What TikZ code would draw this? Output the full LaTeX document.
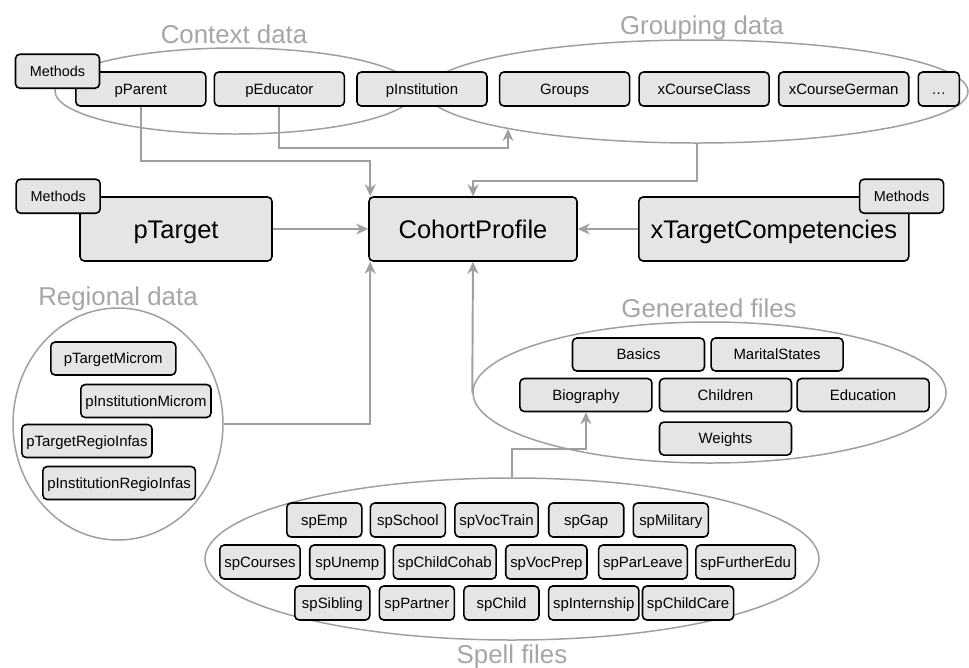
\documentclass[tikz,border=0pt]{standalone}
\usepackage{fontspec}
\setmainfont{Liberation Sans}
\usetikzlibrary{positioning,arrows.meta,shapes.geometric}

\begin{document}
\begin{tikzpicture}[
  x=0.2mm, y=-0.2mm,
  node distance=1.6mm and 1.6mm,
  box/.style={draw=black,line width=0.9pt,fill=gray!20,rounded corners=2.5pt,
              font=\fontsize{8.5}{10}\selectfont,inner xsep=0.9mm,inner ysep=0pt,
              text height=6.1pt,text depth=0pt,minimum height=6.8mm},
  topbox/.style={box,minimum width=26mm},
  genbox/.style={box,minimum width=26.4mm,minimum height=6.6mm},
  spbox/.style={box,minimum width=15mm},
  regbox/.style={box,minimum width=25mm,minimum height=6.6mm,anchor=west},
  bigbox/.style={box,font=\fontsize{14.5}{17}\selectfont,text height=10.4pt,
                 minimum height=12.8mm,inner xsep=1.4mm},
  meth/.style={box,font=\fontsize{8.2}{10}\selectfont,text height=5.9pt,minimum width=16.8mm},
  group/.style={ellipse,draw=gray!75,line width=0.85pt,inner sep=0pt},
  grouplabel/.style={text=gray!70,font=\fontsize{14.7}{17}\selectfont,anchor=base},
  arr/.style={-{Stealth[length=2.4mm,width=2.2mm]},draw=gray!75,line width=1.1pt},
]
\useasboundingbox (0,0) rectangle (969,667);

% groups
\node[group,minimum width=72mm,minimum height=17.2mm] (ctx) at (235,91) {};
\node[group,minimum width=108.4mm,minimum height=20.6mm] (grp) at (697,91.5) {};
\node[group,minimum width=42mm,minimum height=46.4mm] (reg) at (118,424) {};
\node[group,minimum width=94.6mm,minimum height=28.2mm] (gen) at (709.5,392.5) {};
\node[group,minimum width=122.8mm,minimum height=32.4mm] (sp) at (512,559) {};

\node[grouplabel] (ctxlabel) at (234,43.5) {Context data};
\node[grouplabel] (grplabel) at (702,34) {Grouping data};
\node[grouplabel] (reglabel) at (118,305) {Regional data};
\node[grouplabel] (genlabel) at (709,317) {Generated files};
\node[grouplabel] (splabel) at (512,663) {Spell files};

% context + grouping data
\node[topbox,anchor=west] (pParent) at (75,89) {pParent};
\node[topbox,right=1.4mm of pParent] (pEducator) {pEducator};
\node[topbox,right=2.2mm of pEducator] (pInstitution) {pInstitution};
\node[topbox,right=2.2mm of pInstitution] (groups) {Groups};
\node[topbox,right=1.6mm of groups] (xClass) {xCourseClass};
\node[topbox,right=1.6mm of xClass] (xGerman) {xCourseGerman};
\node[box,minimum width=8.2mm,right=1.6mm of xGerman] (more) {.\kern0.3pt.\kern0.3pt.};
\node[meth] (mParent) at ([xshift=-3.5mm]pParent.north west) {Methods};

% main row
\node[bigbox,minimum width=38.4mm] (pTarget) at (176,229) {pTarget};
\node[bigbox,minimum width=41.6mm] (cohort) at (473,229) {CohortProfile};
\node[bigbox,minimum width=54mm,anchor=west] (xTarget) at (638,229) {xTargetCompetencies};
\node[meth] (mTarget) at ([xshift=-4.2mm]pTarget.north west) {Methods};
\node[meth] (mComp) at ([xshift=-1.6mm]xTarget.north east) {Methods};

% regional data
\node[regbox] (pTargetMicrom) at (50,358.5) {pTargetMicrom};
\node[regbox] (pInstMicrom) at (80,401) {pInstitutionMicrom};
\node[regbox] (pTargetRegio) at (21,441) {pTargetRegioInfas};
\node[regbox] (pInstRegio) at (42,483) {pInstitutionRegioInfas};

% generated files
\node[genbox] (children) at (725.5,395) {Children};
\node[genbox,left=1.2mm of children] (bio) {Biography};
\node[genbox,right=0.8mm of children] (edu) {Education};
\node[genbox,below=1.8mm of children] (weights) {Weights};
\node[genbox] (basics) at (638.5,354.5) {Basics};
\node[genbox,right=1mm of basics] (marital) {MaritalStates};

% spell files
\node[spbox,anchor=west] (spEmp) at (286,520) {spEmp};
\node[spbox,right=1.4mm of spEmp] (spSchool) {spSchool};
\node[spbox,right=1.6mm of spSchool] (spVocTrain) {spVocTrain};
\node[spbox,right=1.8mm of spVocTrain] (spGap) {spGap};
\node[spbox,right=1.6mm of spGap] (spMilitary) {spMilitary};

\node[spbox,anchor=west] (spCourses) at (219,562) {spCourses};
\node[spbox,right=1.6mm of spCourses] (spUnemp) {spUnemp};
\node[spbox,right=1.4mm of spUnemp] (spChildCohab) {spChildCohab};
\node[spbox,right=1.6mm of spChildCohab] (spVocPrep) {spVocPrep};
\node[spbox,right=2mm of spVocPrep] (spParLeave) {spParLeave};
\node[spbox,right=1.4mm of spParLeave] (spFurtherEdu) {spFurtherEdu};

\node[spbox,anchor=west] (spSibling) at (294,603) {spSibling};
\node[spbox,right=1.6mm of spSibling] (spPartner) {spPartner};
\node[spbox,right=1.6mm of spPartner] (spChild) {spChild};
\node[spbox,right=1.6mm of spChild] (spInternship) {spInternship};
\node[spbox,right=0.4mm of spInternship] (spChildCare) {spChildCare};

% connectors
\coordinate (grpin) at (508,129);
\draw[arr] (pTarget) -- (cohort);
\draw[arr] (xTarget) -- (cohort);
\draw[arr] (pParent.south) -- ++(0,54) -| ([xshift=0.4mm]cohort.north west);
\draw[arr] (pEducator.south) -- ++(0,41) -| (grpin);
\draw[arr] (grp.south) -- ++(0,37) -| (cohort.north);
\draw[arr] (reg.east) -| ([xshift=0.4mm]cohort.south west);
\draw[arr] (gen.west) -- (cohort.south);
\draw[arr] (sp.north) -- ++(0,-28) -| (bio.south);
\end{tikzpicture}
\end{document}
